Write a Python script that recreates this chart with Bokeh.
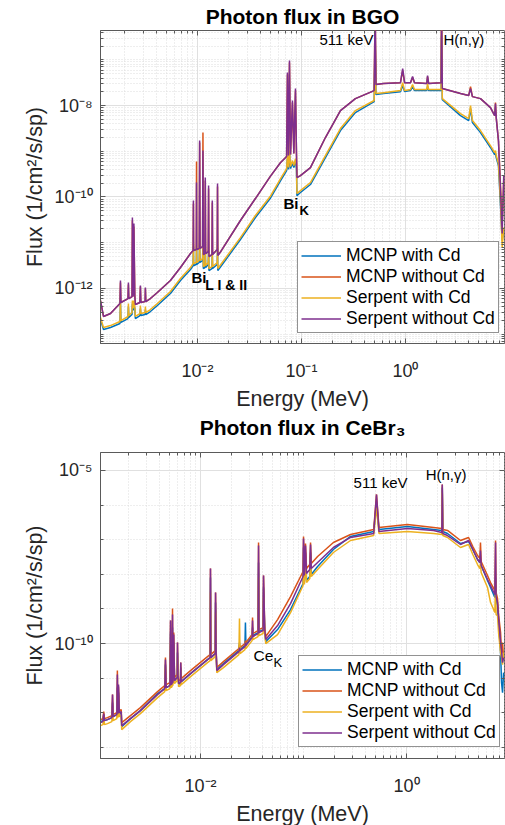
from bokeh.plotting import figure
from bokeh.models import FixedTicker, CustomJSTickFormatter, Label, Legend, LegendItem, Title, LogAxis
from bokeh.layouts import column
from bokeh.embed import file_html
from bokeh.resources import INLINE

FONT = "Liberation Sans"
SERIES = ["MCNP with Cd", "MCNP without Cd", "Serpent with Cd", "Serpent without Cd"]
COLORS = ["#0072BD", "#D95319", "#EDB120", "#7E2F8E"]

# ---------------- BGO (top panel) ----------------
E_BGO = [1.17e-3, 1.25e-3, 1.46e-3, 1.80e-3, 1.82e-3, 1.84e-3, 2.15e-3, 2.17e-3, 2.19e-3, 2.35e-3,
         2.37e-3, 2.41e-3, 2.45e-3, 2.50e-3, 2.53e-3, 2.80e-3, 2.83e-3, 2.86e-3, 3.14e-3, 3.16e-3,
         3.19e-3, 3.53e-3, 4.12e-3, 5.5e-3, 6.87e-3, 8.57e-3, 9.10e-3, 9.15e-3, 9.20e-3, 9.75e-3,
         9.80e-3, 9.85e-3, 1.04e-2, 1.05e-2, 1.06e-2, 1.12e-2, 1.13e-2, 1.14e-2, 1.18e-2, 1.19e-2,
         1.20e-2, 1.27e-2, 1.28e-2, 1.29e-2, 1.38e-2, 1.39e-2, 1.40e-2, 1.55e-2, 1.56e-2, 1.57e-2,
         1.65e-2, 2.59e-2, 3.61e-2, 5.0e-2, 6.3e-2, 7.2e-2, 7.33e-2, 7.5e-2, 7.67e-2, 7.85e-2,
         8.19e-2, 8.45e-2, 8.76e-2, 8.95e-2, 9.05e-2, 9.78e-2, 0.122, 0.170, 0.237, 0.33,
         0.50, 0.511, 0.52, 0.614, 0.895, 0.94, 0.98, 1.117, 1.17, 1.22,
         1.60, 1.63, 1.67, 2.20, 2.223, 2.26, 3.38, 4.05, 4.22, 4.40,
         5.26, 6.56, 7.20, 7.33, 7.45, 7.83, 8.19, 8.50, 8.80]

MCNP_CD_BGO = [2.07e-13, 1.25e-13, 1.39e-13, 1.70e-13, 4.65e-13, 1.79e-13, 2.18e-13, 4.00e-13, 2.30e-13, 2.67e-13,
               4.65e-13, 3.27e-13, 4.65e-13, 3.61e-13, 2.18e-13, 2.54e-13, 3.61e-13, 2.54e-13, 2.67e-13, 3.44e-13,
               2.67e-13, 3.11e-13, 4.20e-13, 7.69e-13, 1.48e-12, 2.58e-12, 3.15e-12, 8.22e-12, 3.15e-12, 3.32e-12,
               7.43e-12, 3.32e-12, 3.67e-12, 9.55e-12, 3.67e-12, 4.06e-12, 1.06e-11, 2.71e-12, 2.85e-12, 7.06e-12,
               2.85e-12, 3.32e-12, 6.71e-12, 2.45e-12, 2.71e-12, 5.77e-12, 2.71e-12, 3.32e-12, 7.43e-12, 2.45e-12,
               2.85e-12, 1.17e-11, 3.54e-11, 9.23e-11, 2.29e-10, 3.78e-10, 6.92e-10, 3.98e-10, 8.91e-10, 4.18e-10,
               5.38e-10, 4.40e-10, 5.95e-10, 4.18e-10, 1.07e-10, 1.25e-10, 1.87e-10, 7.28e-10, 2.84e-9, 7.03e-9,
               1.22e-8, 2.64e-7, 1.74e-8, 1.83e-8, 2.02e-8, 2.74e-8, 2.02e-8, 2.13e-8, 2.61e-8, 2.13e-8,
               2.13e-8, 2.61e-8, 2.13e-8, 2.13e-8, 3.40e-7, 1.35e-8, 6.04e-9, 4.70e-9, 8.60e-9, 4.25e-9,
               2.56e-9, 1.21e-9, 8.47e-10, 8.91e-10, 7.28e-10, 4.86e-10, 6.49e-11, 1.11e-11, 1.84e-11]

MCNP_NOCD_BGO = [5.41e-13, 2.42e-13, 2.81e-13, 4.65e-13, 1.34e-12, 4.89e-13, 5.98e-13, 1.21e-12, 5.98e-13, 6.62e-13,
                 3.05e-11, 6.62e-13, 2.25e-11, 6.95e-13, 4.42e-13, 4.89e-13, 1.09e-12, 4.89e-13, 5.14e-13, 9.9e-13,
                 5.14e-13, 5.98e-13, 8.09e-13, 1.48e-12, 2.85e-12, 5.77e-12, 6.71e-12, 7.18e-11, 6.71e-12, 7.06e-12,
                 5.95e-10, 7.06e-12, 7.43e-12, 1.55e-9, 7.43e-12, 8.22e-12, 2.56e-9, 5.49e-12, 5.77e-12, 2.29e-10,
                 5.77e-12, 6.38e-12, 1.53e-10, 4.97e-12, 5.49e-12, 7.54e-11, 5.49e-12, 7.06e-12, 1.69e-10, 5.22e-12,
                 6.07e-12, 3.05e-11, 9.23e-11, 2.79e-10, 5.66e-10, 7.66e-10, 4.76e-8, 8.05e-10, 8.73e-8, 8.47e-10,
                 1.16e-8, 8.91e-10, 2.13e-8, 9.37e-10, 2.66e-10, 2.94e-10, 4.40e-10, 2.00e-9, 7.78e-9, 1.42e-8,
                 2.13e-8, 1.54e-6, 2.88e-8, 3.03e-8, 3.18e-8, 5.84e-8, 3.18e-8, 3.18e-8, 4.10e-8, 3.18e-8,
                 3.03e-8, 4.31e-8, 3.03e-8, 3.18e-8, 1.54e-6, 2.36e-8, 1.83e-8, 1.66e-8, 2.61e-8, 1.57e-8,
                 1.42e-8, 9.04e-9, 6.04e-9, 1.16e-8, 5.46e-9, 1.71e-9, 1.78e-10, 2.37e-11, 2.29e-10]

SERP_CD_BGO = [2.30e-13, 1.39e-13, 1.53e-13, 1.88e-13, 5.41e-13, 1.97e-13, 2.42e-13, 4.65e-13, 2.54e-13, 2.95e-13,
               5.41e-13, 3.61e-13, 5.41e-13, 4.00e-13, 2.42e-13, 2.81e-13, 4.20e-13, 2.81e-13, 2.95e-13, 4.00e-13,
               2.95e-13, 3.44e-13, 4.65e-13, 8.51e-13, 1.64e-12, 2.85e-12, 3.49e-12, 9.55e-12, 3.49e-12, 3.67e-12,
               8.65e-12, 3.67e-12, 4.06e-12, 1.11e-11, 4.06e-12, 4.49e-12, 1.23e-11, 3.00e-12, 3.15e-12, 8.22e-12,
               3.15e-12, 3.67e-12, 7.82e-12, 2.71e-12, 3.00e-12, 6.71e-12, 3.00e-12, 3.67e-12, 8.65e-12, 2.71e-12,
               3.15e-12, 1.29e-11, 3.92e-11, 1.02e-10, 2.53e-10, 4.18e-10, 8.05e-10, 4.40e-10, 1.04e-9, 4.62e-10,
               6.25e-10, 4.86e-10, 6.92e-10, 4.62e-10, 1.19e-10, 1.38e-10, 2.07e-10, 8.05e-10, 3.14e-9, 7.78e-9,
               1.29e-8, 3.40e-7, 1.83e-8, 1.92e-8, 2.13e-8, 3.18e-8, 2.13e-8, 2.24e-8, 2.88e-8, 2.24e-8,
               2.24e-8, 3.03e-8, 2.24e-8, 2.24e-8, 4.38e-7, 1.42e-8, 6.68e-9, 5.20e-9, 1.0e-8, 4.70e-9,
               2.84e-9, 1.33e-9, 9.37e-10, 1.04e-9, 8.05e-10, 5.38e-10, 8.34e-11, 7.82e-12, 2.14e-11]

SERP_NOCD_BGO = [5.41e-13, 2.42e-13, 2.81e-13, 4.65e-13, 1.48e-12, 4.89e-13, 5.98e-13, 1.34e-12, 5.98e-13, 6.62e-13,
                 3.54e-11, 6.62e-13, 2.62e-11, 6.95e-13, 4.42e-13, 4.89e-13, 1.15e-12, 4.89e-13, 5.14e-13, 1.04e-12,
                 5.14e-13, 5.98e-13, 8.09e-13, 1.48e-12, 2.85e-12, 5.77e-12, 6.71e-12, 8.34e-11, 6.71e-12, 7.06e-12,
                 2.07e-10, 7.06e-12, 7.43e-12, 1.71e-9, 7.43e-12, 8.22e-12, 1.04e-9, 5.49e-12, 5.77e-12, 2.66e-10,
                 5.77e-12, 6.38e-12, 1.78e-10, 4.97e-12, 5.49e-12, 8.34e-11, 5.49e-12, 7.06e-12, 1.96e-10, 5.22e-12,
                 6.07e-12, 3.05e-11, 9.23e-11, 2.79e-10, 5.66e-10, 7.66e-10, 5.27e-8, 8.05e-10, 9.67e-8, 8.47e-10,
                 1.29e-8, 8.91e-10, 2.36e-8, 9.37e-10, 2.66e-10, 2.94e-10, 4.40e-10, 2.00e-9, 7.78e-9, 1.42e-8,
                 2.13e-8, 1.54e-6, 2.88e-8, 3.03e-8, 3.18e-8, 6.46e-8, 3.18e-8, 3.18e-8, 4.31e-8, 3.18e-8,
                 3.03e-8, 4.53e-8, 3.03e-8, 3.18e-8, 1.54e-6, 2.36e-8, 1.83e-8, 1.66e-8, 2.36e-8, 1.57e-8,
                 1.42e-8, 9.04e-9, 6.04e-9, 1.11e-8, 5.46e-9, 1.71e-9, 1.38e-10, 1.58e-11, 2.94e-10]

# ---------------- CeBr3 (bottom panel) ----------------
E_CE = [1.07e-3, 1.13e-3, 1.15e-3, 1.17e-3, 1.25e-3, 1.38e-3, 1.40e-3, 1.42e-3, 1.54e-3, 1.56e-3,
        1.58e-3, 1.60e-3, 1.63e-3, 1.70e-3, 1.72e-3, 2.09e-3, 2.61e-3, 3.83e-3, 4.50e-3, 4.57e-3,
        4.65e-3, 5.05e-3, 5.12e-3, 5.20e-3, 5.30e-3, 5.35e-3, 5.40e-3, 5.50e-3, 5.60e-3, 5.95e-3,
        5.98e-3, 6.05e-3, 6.15e-3, 6.40e-3, 6.43e-3, 6.50e-3, 8.0e-3, 1.17e-2, 1.24e-2, 1.25e-2,
        1.26e-2, 1.39e-2, 1.40e-2, 1.42e-2, 1.44e-2, 1.67e-2, 2.36e-2, 2.39e-2, 2.42e-2, 2.70e-2,
        2.73e-2, 2.76e-2, 3.17e-2, 3.20e-2, 3.23e-2, 3.62e-2, 3.66e-2, 3.70e-2, 4.05e-2, 4.09e-2,
        4.20e-2, 4.30e-2, 5.6e-2, 7.48e-2, 9.9e-2, 0.100, 0.102, 0.1045, 0.107, 0.115,
        0.117, 0.119, 0.137, 0.195, 0.286, 0.48, 0.511, 0.54, 1.02, 1.83,
        2.20, 2.223, 2.25, 2.5, 3.34, 4.0, 4.4, 4.89, 5.15, 5.22,
        5.30, 6.11, 6.54, 7.2, 7.31, 7.4, 7.64, 7.82, 8.18, 8.36,
        8.55, 8.75]

MCNP_CD_CE = [5.57e-13, 5.95e-13, 8.87e-13, 5.95e-13, 6.36e-13, 7.27e-13, 1.97e-12, 7.77e-13, 8.87e-13, 5.35e-12,
              9.48e-13, 3.84e-12, 9.48e-13, 1.01e-12, 3.99e-13, 6.80e-13, 1.16e-12, 3.59e-12, 5.01e-12, 2.47e-11,
              5.35e-12, 6.11e-12, 2.08e-10, 6.53e-12, 6.98e-12, 2.90e-10, 7.46e-12, 1.07e-10, 8.52e-12, 1.04e-11,
              5.50e-11, 1.11e-11, 6.53e-12, 7.46e-12, 2.03e-11, 7.98e-12, 1.36e-11, 3.45e-11, 3.94e-11, 8.08e-9,
              3.94e-11, 5.14e-11, 1.53e-9, 5.14e-11, 1.77e-11, 2.64e-11, 6.28e-11, 1.07e-10, 6.71e-11, 8.75e-11,
              4.05e-10, 9.36e-11, 1.59e-10, 2.90e-10, 1.70e-10, 2.08e-10, 2.19e-8, 2.22e-10, 2.54e-10, 4.16e-9,
              2.38e-10, 1.14e-10, 2.54e-10, 9.61e-10, 5.42e-9, 5.95e-8, 5.80e-9, 4.27e-8, 6.62e-9, 8.64e-9,
              4.27e-8, 9.87e-9, 1.68e-8, 5.21e-8, 1.24e-7, 1.73e-7, 1.19e-6, 1.97e-7, 2.41e-7, 1.97e-7,
              1.85e-7, 3.23e-6, 1.73e-7, 1.51e-7, 7.77e-8, 8.87e-8, 5.21e-8, 2.68e-8, 2.19e-8, 2.86e-8,
              1.80e-8, 6.62e-9, 4.16e-9, 2.14e-9, 8.08e-9, 1.87e-9, 1.25e-9, 4.05e-10, 5.50e-11, 7.46e-12,
              3.84e-12, 1.45e-11]

MCNP_NOCD_CE = [6.36e-13, 6.80e-13, 1.08e-12, 6.80e-13, 7.27e-13, 8.30e-13, 3.36e-12, 8.87e-13, 1.01e-12, 1.66e-11,
                1.08e-12, 5.72e-12, 1.16e-12, 1.24e-12, 5.21e-13, 8.30e-13, 1.41e-12, 4.10e-12, 6.11e-12, 3.94e-11,
                6.53e-12, 7.46e-12, 4.62e-10, 7.98e-12, 8.52e-12, 1.03e-9, 9.11e-12, 2.08e-10, 1.04e-11, 1.27e-11,
                1.07e-10, 1.36e-11, 8.52e-12, 9.11e-12, 2.83e-11, 9.74e-12, 1.66e-11, 4.21e-11, 4.81e-11, 1.47e-8,
                4.81e-11, 6.28e-11, 2.98e-9, 6.28e-11, 2.03e-11, 3.02e-11, 7.17e-11, 9.36e-11, 7.66e-11, 1.0e-10,
                1.22e-10, 1.07e-10, 1.82e-10, 5.64e-10, 1.95e-10, 2.38e-10, 8.30e-8, 2.54e-10, 2.90e-10, 9.23e-9,
                3.10e-10, 1.59e-10, 4.94e-10, 2.28e-9, 1.21e-8, 1.24e-7, 1.29e-8, 7.77e-8, 1.47e-8, 1.92e-8,
                8.30e-8, 2.05e-8, 3.27e-8, 8.30e-8, 1.41e-7, 1.97e-7, 2.03e-6, 2.25e-7, 2.75e-7, 2.25e-7,
                2.11e-7, 3.94e-6, 1.97e-7, 1.85e-7, 9.48e-8, 1.16e-7, 6.36e-8, 3.50e-8, 2.86e-8, 8.30e-8,
                2.35e-8, 9.23e-9, 5.80e-9, 3.40e-9, 9.48e-8, 2.98e-9, 2.00e-9, 6.89e-10, 2.08e-10, 5.50e-11,
                1.07e-10, 3.45e-11]

SERP_CD_CE = [4.27e-13, 4.56e-13, 7.77e-13, 4.56e-13, 4.88e-13, 5.57e-13, 1.41e-12, 5.95e-13, 6.80e-13, 3.84e-12,
              7.27e-13, 2.75e-12, 7.77e-13, 8.30e-13, 3.27e-13, 5.57e-13, 9.48e-13, 2.75e-12, 4.10e-12, 2.03e-11,
              4.38e-12, 5.01e-12, 1.07e-10, 5.35e-12, 5.72e-12, 1.49e-10, 6.11e-12, 6.28e-11, 6.98e-12, 8.52e-12,
              3.94e-11, 9.11e-12, 5.72e-12, 6.11e-12, 1.66e-11, 6.53e-12, 1.11e-11, 2.83e-11, 3.23e-11, 2.98e-9,
              3.23e-11, 4.21e-11, 7.87e-10, 4.21e-11, 1.45e-11, 2.03e-11, 4.81e-11, 5.28e-10, 5.14e-11, 6.71e-11,
              1.07e-10, 7.17e-11, 1.22e-10, 2.38e-10, 1.31e-10, 1.59e-10, 8.08e-9, 1.70e-10, 1.95e-10, 2.14e-9,
              2.08e-10, 1.0e-10, 1.82e-10, 7.87e-10, 4.75e-9, 4.27e-8, 5.07e-9, 3.06e-8, 5.80e-9, 7.56e-9,
              3.06e-8, 8.64e-9, 1.38e-8, 4.27e-8, 9.48e-8, 1.32e-7, 8.52e-7, 1.51e-7, 1.73e-7, 1.51e-7,
              1.41e-7, 2.31e-6, 1.32e-7, 1.16e-7, 5.95e-8, 7.27e-8, 3.74e-8, 1.92e-8, 1.47e-8, 2.19e-8,
              1.13e-8, 4.16e-9, 1.53e-9, 7.87e-10, 5.80e-9, 6.89e-10, 6.45e-10, 2.08e-10, 5.50e-11, 3.94e-11,
              2.47e-11, 5.50e-11]

SERP_NOCD_CE = [5.21e-13, 5.57e-13, 9.48e-13, 5.95e-13, 6.36e-13, 7.27e-13, 3.36e-12, 7.77e-13, 8.87e-13, 1.27e-11,
                9.48e-13, 6.53e-12, 1.01e-12, 1.08e-12, 4.27e-13, 6.80e-13, 1.16e-12, 3.36e-12, 5.01e-12, 3.45e-11,
                5.35e-12, 6.11e-12, 4.62e-10, 6.53e-12, 6.98e-12, 6.89e-10, 7.46e-12, 1.82e-10, 8.52e-12, 1.04e-11,
                1.07e-10, 1.11e-11, 6.98e-12, 7.46e-12, 2.83e-11, 7.98e-12, 1.36e-11, 3.45e-11, 3.94e-11, 1.47e-8,
                3.94e-11, 5.14e-11, 2.98e-9, 5.14e-11, 1.66e-11, 2.47e-11, 5.87e-11, 7.66e-11, 6.28e-11, 8.19e-11,
                1.07e-10, 8.75e-11, 1.49e-10, 4.62e-10, 1.59e-10, 1.95e-10, 6.80e-8, 2.08e-10, 2.38e-10, 9.23e-9,
                2.54e-10, 1.31e-10, 3.31e-10, 1.43e-9, 8.64e-9, 1.08e-7, 9.23e-9, 6.80e-8, 1.06e-8, 1.38e-8,
                7.27e-8, 1.47e-8, 2.19e-8, 5.95e-8, 1.16e-7, 1.51e-7, 2.03e-6, 1.73e-7, 2.11e-7, 1.85e-7,
                1.62e-7, 3.94e-6, 1.51e-7, 1.32e-7, 7.27e-8, 9.48e-8, 5.21e-8, 2.68e-8, 2.19e-8, 4.88e-8,
                1.80e-8, 7.08e-9, 4.75e-9, 2.61e-9, 8.30e-8, 2.28e-9, 1.53e-9, 5.64e-10, 1.07e-10, 6.28e-11,
                2.83e-11, 3.94e-11]

# ---------------- axis ticks ----------------
BGO_X_TICKS = [1e-2, 1e-1, 1e0]
BGO_Y_TICKS = [1e-12, 1e-10, 1e-8]
CE_X_TICKS = [1e-2, 1e0]
CE_Y_TICKS = [1e-10, 1e-5]

SUP_JS = """
const s = {'-':'\u207b','0':'\u2070','1':'\u00b9','2':'\u00b2','3':'\u00b3','4':'\u2074',
           '5':'\u2075','6':'\u2076','7':'\u2077','8':'\u2078','9':'\u2079'};
const e = Math.round(Math.log10(tick));
return '10' + String(e).split('').map(c => s[c]).join('');
"""

AX = "#5a5a5a"
TXT = "#262626"


def minors(decades, ks, majors_exp):
    out = []
    for n in decades:
        for k in ks:
            if k == 1 and n in majors_exp:
                continue
            out.append(k * 10.0 ** n)
    return out


def style_ticks(ax):
    ax.axis_line_color = AX
    ax.major_tick_line_color = AX
    ax.minor_tick_line_color = AX
    ax.major_tick_in = 5
    ax.major_tick_out = 0
    ax.minor_tick_in = 3
    ax.minor_tick_out = 0


def make_title(text, standoff):
    return Title(text=text, align="center", text_font=FONT, text_font_style="bold",
                 text_font_size="21px", text_color="black", standoff=standoff,
                 text_line_height=1.0)


def make_fig(x_range, y_range, frame_h, b_top, b_bot, xt, xminor, yt, yminor):
    p = figure(x_axis_type="log", y_axis_type="log", x_range=x_range, y_range=y_range,
               frame_width=404, frame_height=frame_h,
               min_border_left=100, min_border_right=1, min_border_top=b_top, min_border_bottom=b_bot,
               output_backend="svg", toolbar_location=None,
               background_fill_color="white", border_fill_color="white")
    p.outline_line_color = AX
    p.outline_line_width = 1
    xtick = FixedTicker(ticks=xt, minor_ticks=xminor)
    ytick = FixedTicker(ticks=yt, minor_ticks=yminor)
    p.xaxis.ticker = xtick
    p.xgrid.ticker = xtick
    p.yaxis.ticker = ytick
    p.ygrid.ticker = ytick
    p.xaxis.formatter = CustomJSTickFormatter(code=SUP_JS)
    p.yaxis.formatter = CustomJSTickFormatter(code=SUP_JS)
    for ax in (p.xaxis[0], p.yaxis[0]):
        style_ticks(ax)
        ax.major_label_text_font = FONT
        ax.major_label_text_font_size = "18px"
        ax.major_label_text_color = TXT
        ax.major_label_text_line_height = 1.0
        ax.axis_label_text_font = FONT
        ax.axis_label_text_font_size = "21.5px"
        ax.axis_label_text_font_style = "normal"
        ax.axis_label_text_color = TXT
        ax.axis_label_text_line_height = 1.0
    p.xaxis.axis_label = "Energy (MeV)"
    p.yaxis.axis_label = "Flux (1/cm\u00b2/s/sp)"
    p.xaxis.major_label_standoff = 17
    p.xaxis.axis_label_standoff = 3
    p.yaxis.major_label_standoff = 8
    p.yaxis.axis_label_standoff = 4
    # box ticks on the top and right edges (no labels)
    for side, tk in (("above", xtick), ("right", ytick)):
        ax = LogAxis(ticker=tk, formatter=CustomJSTickFormatter(code="return ''"),
                     major_label_text_font_size="0px", major_label_standoff=0)
        style_ticks(ax)
        ax.axis_line_color = None
        p.add_layout(ax, side)
    p.grid.grid_line_color = "#e0e0e0"
    p.grid.grid_line_width = 1
    p.grid.minor_grid_line_color = "#dcdcdc"
    p.grid.minor_grid_line_dash = "1 2"
    return p


def add_series(p, energy, fluxes, legend_loc):
    items = []
    for name, col, flux in zip(SERIES, COLORS, fluxes):
        r = p.line(energy, flux, line_color=col, line_width=1.5)
        items.append(LegendItem(label=name, renderers=[r]))
    leg = Legend(items=items, location=legend_loc, label_text_font=FONT, label_text_font_size="17.5px",
                 label_text_color="black", glyph_width=40, glyph_height=21, label_height=21,
                 spacing=0, padding=3, margin=0, label_standoff=5,
                 border_line_color=TXT, border_line_width=1, background_fill_color="white",
                 background_fill_alpha=1.0)
    p.add_layout(leg)


def note(p, x, y, text, size, bold=False, align="left"):
    p.add_layout(Label(x=x, y=y, text=text, text_font=FONT, text_font_size=size,
                       text_font_style="bold" if bold else "normal", text_align=align,
                       text_baseline="middle", text_color="black"))


# top figure
p1 = make_fig((1.17e-3, 8.95), (6.2e-14, 4.4e-7), 313, 30, 62,
              BGO_X_TICKS, minors(range(-3, 1), range(2, 10), []),
              BGO_Y_TICKS, minors(range(-14, -6), range(1, 10), [-12, -10, -8]))
p1.title = make_title("Photon flux in BGO", 5)
add_series(p1, E_BGO, [MCNP_CD_BGO, MCNP_NOCD_BGO, SERP_CD_BGO, SERP_NOCD_BGO], (197, 10))
note(p1, 0.492, 2.78e-7, "511 keV", "15px", align="right")
note(p1, 2.32, 2.78e-7, "H(n,\u03b3)", "15px")
note(p1, 0.0671, 7.18e-11, "Bi", "15px", bold=True)
note(p1, 0.0957, 5.04e-11, "K", "13px", bold=True)
note(p1, 8.76e-3, 1.72e-12, "Bi", "15px", bold=True)
note(p1, 1.19e-2, 1.21e-12, "L I & II", "14px", bold=True)
# heading of the lower panel, placed under the upper panel's x axis
p1.add_layout(make_title("Photon flux in CeBr\u2083", 0), "below")

# bottom figure
p2 = make_fig((1.07e-3, 8.93), (4.8e-14, 3.3e-5), 306, 14, 62,
              CE_X_TICKS, minors(range(-3, 1), range(1, 10), [-2, 0]),
              CE_Y_TICKS, minors(range(-14, -4), [1], [-10, -5]))
add_series(p2, E_CE, [MCNP_CD_CE, MCNP_NOCD_CE, SERP_CD_CE, SERP_NOCD_CE], (198, 11))
note(p2, 0.559, 4.5e-6, "511 keV", "15px", align="center")
note(p2, 2.42, 7.66e-6, "H(n,\u03b3)", "15px", align="center")
note(p2, 0.0327, 4.5e-11, "Ce", "15.5px")
note(p2, 0.0512, 2.83e-11, "K", "13px")

layout = column(p1, p2, spacing=0)
open("out.html", "w").write(file_html(layout, INLINE, "Photon flux"))
